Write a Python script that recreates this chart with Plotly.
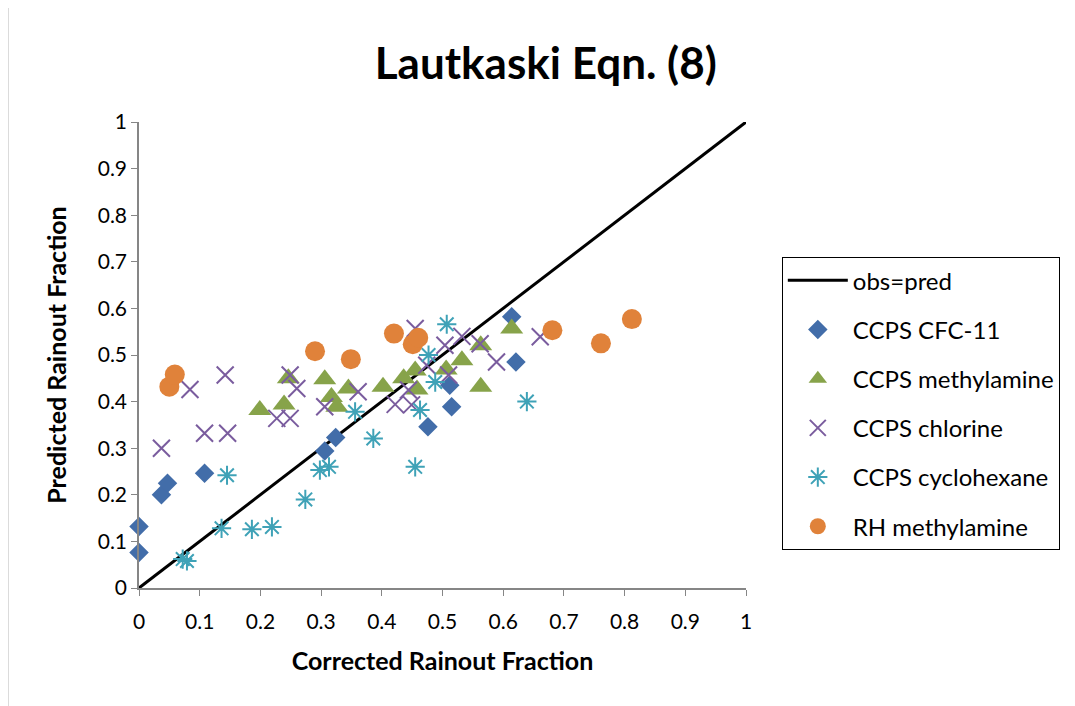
import plotly.graph_objects as go

# obs = pred reference line
line_x = [0, 1]
line_y = [0, 1]

# CCPS CFC-11
cfc_x = [0.0, 0.0, 0.037, 0.047, 0.108, 0.306, 0.324, 0.476, 0.512, 0.515, 0.614, 0.621]
cfc_y = [0.132, 0.076, 0.200, 0.225, 0.246, 0.294, 0.323, 0.346, 0.435, 0.389, 0.582, 0.485]

# CCPS methylamine
mea_x = [0.199, 0.239, 0.246, 0.306, 0.317, 0.326, 0.345, 0.402, 0.436, 0.455, 0.458, 0.506, 0.532, 0.563, 0.563, 0.614]
mea_y = [0.382, 0.394, 0.450, 0.448, 0.410, 0.389, 0.428, 0.432, 0.450, 0.467, 0.426, 0.469, 0.489, 0.521, 0.432, 0.557]

# CCPS chlorine
cl_x = [0.037, 0.084, 0.108, 0.146, 0.142, 0.227, 0.249, 0.249, 0.260, 0.306, 0.361,
        0.422, 0.444, 0.449, 0.455, 0.474, 0.504, 0.510, 0.532, 0.562, 0.589, 0.661]
cl_y = [0.300, 0.426, 0.332, 0.332, 0.457, 0.364, 0.364, 0.457, 0.428, 0.389, 0.421,
        0.394, 0.425, 0.393, 0.557, 0.478, 0.521, 0.457, 0.540, 0.524, 0.485, 0.539]

# CCPS cyclohexane
cy_x = [0.072, 0.079, 0.136, 0.145, 0.186, 0.219, 0.274, 0.298, 0.313, 0.356, 0.386,
        0.455, 0.463, 0.477, 0.488, 0.507, 0.639]
cy_y = [0.062, 0.058, 0.128, 0.242, 0.126, 0.131, 0.190, 0.253, 0.260, 0.378, 0.321,
        0.260, 0.382, 0.500, 0.442, 0.566, 0.400]

# RH methylamine
rh_x = [0.050, 0.059, 0.290, 0.349, 0.420, 0.451, 0.460, 0.681, 0.761, 0.812]
rh_y = [0.432, 0.458, 0.508, 0.491, 0.546, 0.523, 0.537, 0.553, 0.525, 0.577]

FONT = "Lato"

fig = go.Figure()

fig.add_trace(go.Scatter(x=line_x, y=line_y, mode="lines", name="obs=pred",
                         line=dict(color="black", width=3), legendgroup="a"))
fig.add_trace(go.Scatter(x=cfc_x, y=cfc_y, mode="markers", name="CCPS CFC-11",
                         marker=dict(symbol="diamond", size=15, color="#426DA9"),
                         legendgroup="b", cliponaxis=False))
fig.add_trace(go.Scatter(x=mea_x, y=mea_y, mode="markers", name="CCPS methylamine",
                         marker=dict(symbol="triangle-up", size=20, color="#87A34A"),
                         legendgroup="c", cliponaxis=False))
fig.add_trace(go.Scatter(x=cl_x, y=cl_y, mode="markers", name="CCPS chlorine",
                         marker=dict(symbol="x-thin-open", size=17, color="#7A5C9E",
                                     line=dict(color="#7A5C9E", width=2)),
                         legendgroup="d", cliponaxis=False))
fig.add_trace(go.Scatter(x=cy_x, y=cy_y, mode="markers", name="CCPS cyclohexane",
                         marker=dict(symbol="asterisk-open", size=16, color="#3FA2B7",
                                     line=dict(color="#3FA2B7", width=2)),
                         legendgroup="e", cliponaxis=False))
fig.add_trace(go.Scatter(x=rh_x, y=rh_y, mode="markers", name="RH methylamine",
                         marker=dict(symbol="circle", size=20, color="#E0823A"),
                         legendgroup="f", cliponaxis=False))

axis_style = dict(range=[0, 1], dtick=0.1, tick0=0, showgrid=False, zeroline=False,
                  showline=True, linecolor="#868686", linewidth=1.5,
                  ticks="outside", ticklen=6, tickcolor="#868686",
                  tickfont=dict(family=FONT, size=21, color="black"))

fig.update_xaxes(**axis_style, ticklabelstandoff=8,
                 title=dict(text="<b>Corrected Rainout Fraction</b>", standoff=21,
                            font=dict(family=FONT, size=25, color="black")))
fig.update_yaxes(**axis_style,
                 title=dict(text="<b>Predicted Rainout Fraction</b>", standoff=24,
                            font=dict(family=FONT, size=25, color="black")))

fig.update_layout(
    width=1067, height=698,
    margin=dict(l=131, r=329, t=114, b=118),
    paper_bgcolor="white", plot_bgcolor="white",
    title=dict(text="<b>Lautkaski Eqn. (8)</b>", x=0.504, xanchor="center",
               y=0.92, yanchor="middle",
               font=dict(family=FONT, size=44, color="black")),
    legend=dict(x=1.059, y=0.71, xanchor="left", yanchor="top",
                bordercolor="black", borderwidth=1, bgcolor="white",
                font=dict(family=FONT, size=24, color="black"),
                tracegroupgap=15, itemwidth=60),
    shapes=[dict(type="line", xref="paper", yref="paper", x0=-0.216, x1=-0.216,
                 y0=-0.3, y1=1.3, line=dict(color="#A0A0A0", width=1))],
)

fig.write_html("out.html")
